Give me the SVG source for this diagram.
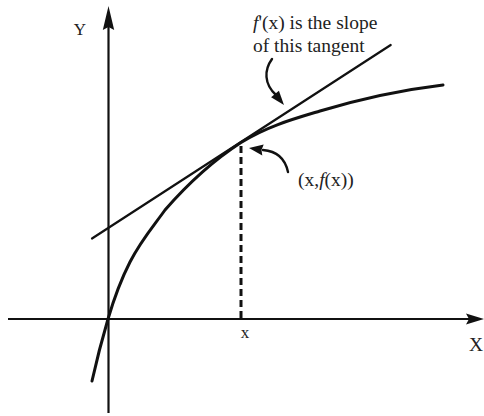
<svg xmlns="http://www.w3.org/2000/svg" width="484" height="416" viewBox="0 0 484 416">
<style>
.ax{stroke:#111;stroke-width:2.2;fill:none}
.curve{stroke:#111;stroke-width:3;fill:none;stroke-linecap:round}
.tan{stroke:#111;stroke-width:2.2;fill:none;stroke-linecap:round}
.dash{stroke:#111;stroke-width:3;fill:none;stroke-dasharray:7 4}
.ann{stroke:#111;stroke-width:2.4;fill:none;stroke-linecap:round}
.head{fill:#111;stroke:none}
text{font-family:"Liberation Serif","Times New Roman",serif;fill:#222}
.lbl{font-size:19.5px}
</style>
<rect width="484" height="416" fill="#fff"/>
<g id="connectors">
<line class="ax" x1="108.5" y1="413" x2="108.5" y2="22"/>
<polygon class="head" points="108.5,6 114.2,30 108.5,27 102.8,30"/>
<line class="ax" x1="8" y1="319" x2="472" y2="319"/>
<polygon class="head" points="484,319 466,313.5 469,319 466,324.5"/>
<path class="curve" d="M92,381 C97.33,357 102.67,337.13 108,319 C115.33,294.07 122.67,276.3 130,262 C141.67,239.25 153.33,226.42 165,210 C190.33,180.87 215.67,158.9 241,142.5 C267.33,126.17 293.67,118.9 320,111 C361,98.7 402,89.92 443,85"/>
<line class="tan" x1="92" y1="238.5" x2="390.7" y2="45"/>
<line class="dash" x1="241" y1="146" x2="241" y2="318"/>
<path class="ann" d="M272,59 C264,70 264,84 276,95"/>
<polygon class="head" points="284,105 271.1,97.2 275,94 278.9,90.8"/>
<path class="ann" d="M288,172 C285,158 276,151 263,150"/>
<polygon class="head" points="249,148 263.7,144.5 261.5,150 262.3,155.5"/>
</g>
<g id="label-y"><text x="80" y="35" font-size="17" text-anchor="middle">Y</text></g>
<g id="label-X"><text x="469" y="351" class="lbl">X</text></g>
<g id="label-x"><text x="245" y="338" font-size="17" text-anchor="middle">x</text></g>
<g id="label-slope"><text x="253" y="29" class="lbl"><tspan font-style="italic">f</tspan>'(x) is the slope</text><text x="253" y="52" class="lbl">of this tangent</text></g>
<g id="label-point"><text x="298" y="186" class="lbl">(x,<tspan font-style="italic">f</tspan>(x))</text></g>
</svg>
